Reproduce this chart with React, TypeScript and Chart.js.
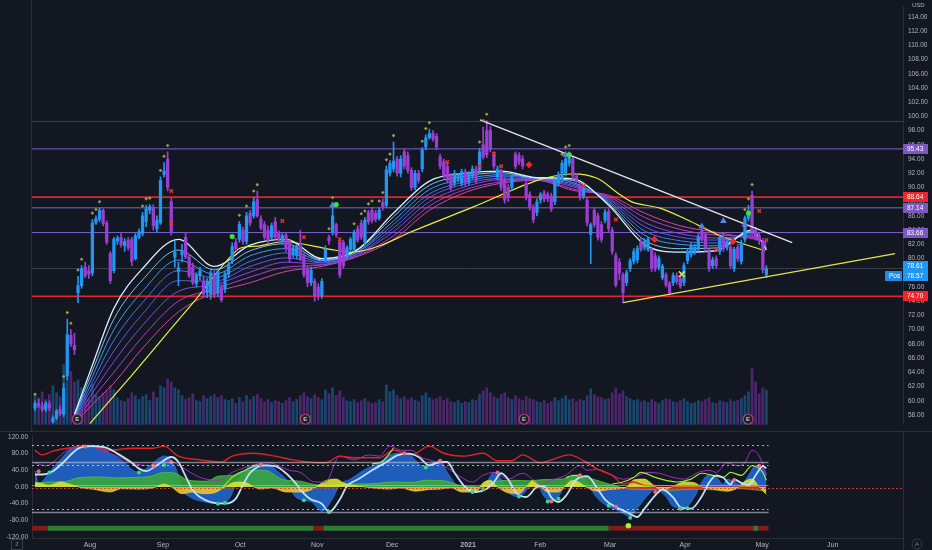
import React, { useEffect, useRef } from 'react';
import { Chart, registerables } from 'chart.js';

Chart.register(...registerables);

// ---------------- price data (daily candles, index 0 = first bar) ----------------
const opens = [
  59.0, 59.6, 59.3, 58.8, 59.6, 57.0, 57.6, 58.8, 58.1, 63.5,
  69.2, 67.8, 75.2, 76.2, 78.8, 78.3, 78.0, 85.0, 85.5, 86.8,
  85.0, 80.7, 78.3, 82.5, 83.0, 81.8, 82.6, 82.7, 80.0, 83.0,
  83.5, 85.2, 86.8, 87.2, 84.2, 85.0, 91.8, 94.0, 88.0, 80.2,
  78.2, 80.5, 83.0, 80.2, 78.8, 76.5, 77.6, 76.8, 75.2, 75.0,
  77.7, 75.1, 75.9, 75.8, 77.8, 79.6, 82.3, 82.7, 84.0, 82.4,
  86.4, 86.0, 88.3, 85.6, 84.8, 84.0, 83.0, 85.2, 83.5, 82.4,
  83.3, 82.3, 80.5, 80.4, 81.9, 80.4, 78.6, 76.6, 76.8, 76.0,
  74.8, 80.0, 83.0, 83.7, 84.8, 82.3, 82.3, 80.5, 81.3, 81.3,
  84.2, 85.0, 82.3, 86.5, 86.8, 86.4, 85.7, 87.9, 87.5, 92.0,
  92.6, 94.0, 92.0, 95.0, 94.5, 92.4, 90.0, 92.0, 92.6, 95.7,
  97.0, 97.6, 97.2, 94.3, 93.6, 93.0, 91.6, 90.6, 91.2, 90.6,
  92.2, 90.8, 91.6, 92.6, 92.5, 96.0, 98.0, 98.0, 94.6, 91.5,
  92.3, 91.0, 90.0, 90.0, 94.7, 94.5, 94.0, 90.6, 89.0, 87.2,
  86.5, 88.2, 89.2, 89.0, 88.8, 88.0, 90.6, 91.2, 92.0, 93.4,
  94.0, 91.6, 90.3, 88.8, 88.2, 83.4, 86.8, 86.0, 84.8, 85.4,
  86.6, 84.0, 80.4, 79.5, 77.7, 76.6, 78.6, 79.6, 79.8, 82.4,
  81.6, 81.3, 81.3, 80.4, 78.8, 77.3, 77.7, 76.5, 76.6, 77.6,
  77.2, 76.6, 79.7, 80.6, 81.0, 81.3, 84.0, 83.3, 81.0, 79.0,
  80.0, 81.0, 83.0, 81.6, 81.6, 78.6, 81.6, 79.6, 82.7, 85.7,
  88.9, 84.0, 83.2, 82.4, 77.7,
];
const highs = [
  60.0, 60.2, 59.8, 59.9, 60.0, 57.9, 58.8, 59.3, 62.5, 71.5,
  70.0, 69.5, 77.5, 79.0, 79.5, 79.0, 85.5, 86.0, 87.1, 87.0,
  85.3, 81.0, 83.0, 83.2, 83.5, 82.8, 83.0, 83.0, 83.5, 84.2,
  86.5, 87.5, 87.6, 87.6, 86.0, 91.5, 93.5, 95.0, 88.5, 82.5,
  79.5, 82.0, 83.6, 80.6, 79.4, 78.0, 78.8, 77.5, 77.2, 78.3,
  78.2, 78.6, 76.4, 78.2, 79.5, 82.2, 82.8, 85.2, 84.4, 86.5,
  86.8, 88.6, 89.5, 86.0, 85.2, 84.6, 85.0, 85.8, 83.9, 83.5,
  83.6, 82.6, 81.8, 82.0, 84.0, 80.8, 79.0, 78.8, 77.2, 76.5,
  77.2, 81.8, 83.3, 87.7, 85.0, 82.7, 82.6, 81.8, 83.0, 84.0,
  84.6, 85.4, 85.8, 86.8, 87.2, 86.8, 87.2, 88.4, 93.0, 93.8,
  96.4, 94.4, 94.5, 95.4, 95.0, 92.8, 92.4, 92.4, 95.6, 97.4,
  98.2, 98.0, 97.6, 94.7, 94.0, 93.4, 92.0, 92.4, 92.0, 92.6,
  92.6, 92.2, 93.0, 93.0, 95.5, 98.5, 99.4, 98.6, 95.0, 93.0,
  92.6, 91.4, 90.4, 91.8, 95.0, 94.9, 94.5, 91.0, 89.4, 87.6,
  88.4, 89.3, 89.6, 89.4, 89.2, 91.3, 92.2, 93.8, 94.8, 95.0,
  94.4, 92.0, 90.7, 90.2, 88.6, 85.0, 87.2, 86.4, 85.2, 86.9,
  87.0, 84.4, 80.8, 80.0, 78.0, 78.4, 80.0, 81.4, 81.8, 82.8,
  82.8, 83.0, 81.6, 80.8, 80.4, 79.2, 78.0, 76.8, 78.0, 78.0,
  77.6, 79.4, 81.4, 82.2, 82.0, 83.4, 84.4, 83.7, 81.3, 80.2,
  80.4, 83.4, 83.4, 82.8, 82.0, 81.6, 82.0, 82.6, 86.0, 87.5,
  89.5, 84.4, 83.6, 82.8, 79.0,
];
const lows = [
  58.6, 59.0, 58.5, 58.5, 58.6, 56.9, 57.3, 57.9, 57.8, 63.0,
  67.6, 66.5, 73.8, 75.8, 77.3, 77.2, 77.6, 84.8, 85.2, 84.6,
  82.0, 76.5, 78.0, 82.0, 81.6, 81.0, 81.2, 79.0, 79.8, 82.8,
  83.2, 84.5, 86.3, 84.0, 83.8, 84.8, 91.5, 89.5, 83.3, 78.8,
  76.2, 79.5, 80.0, 77.3, 76.3, 76.0, 77.0, 74.6, 74.5, 74.3,
  74.5, 74.6, 73.9, 75.2, 77.3, 79.3, 81.1, 82.3, 82.0, 82.0,
  84.6, 85.7, 85.8, 84.0, 82.7, 82.2, 82.6, 82.7, 82.3, 82.0,
  81.0, 79.5, 80.2, 80.0, 79.7, 77.4, 76.0, 76.2, 74.0, 74.2,
  74.4, 79.6, 82.0, 83.3, 83.0, 77.3, 78.6, 80.0, 81.0, 81.0,
  82.3, 82.7, 82.0, 84.8, 85.0, 85.2, 85.4, 86.8, 87.2, 91.6,
  92.2, 91.6, 91.5, 92.6, 92.0, 89.6, 89.7, 90.6, 92.2, 95.3,
  96.8, 96.5, 95.3, 92.6, 91.3, 90.6, 89.6, 90.2, 90.8, 90.2,
  90.2, 90.4, 91.2, 90.6, 92.0, 94.0, 94.2, 95.0, 92.6, 91.0,
  89.6, 87.8, 88.0, 89.6, 92.6, 93.2, 92.6, 88.2, 86.8, 85.0,
  86.0, 87.8, 88.0, 88.0, 86.6, 87.6, 90.2, 90.8, 91.6, 93.0,
  91.2, 90.5, 88.2, 88.4, 84.6, 79.3, 84.4, 82.6, 82.3, 85.0,
  83.8, 80.6, 76.0, 77.0, 73.8, 76.2, 78.2, 79.2, 79.4, 81.0,
  81.2, 81.0, 78.2, 78.2, 78.4, 77.0, 76.0, 74.9, 76.2, 76.4,
  75.8, 76.2, 79.3, 80.2, 80.6, 81.0, 82.4, 81.0, 78.2, 78.6,
  78.6, 80.6, 81.0, 81.2, 78.6, 78.2, 79.6, 79.2, 82.3, 85.3,
  83.4, 82.6, 82.0, 78.0, 77.3,
];
const closes = [
  59.6, 59.3, 58.8, 59.6, 59.0, 57.6, 58.5, 58.2, 61.8, 69.3,
  68.0, 67.2, 76.2, 78.6, 77.6, 77.8, 85.0, 85.6, 86.8, 84.9,
  82.3, 76.9, 82.7, 82.9, 82.0, 82.4, 81.5, 79.6, 83.2, 83.8,
  86.0, 87.0, 87.3, 84.6, 85.4, 91.0, 92.3, 90.0, 83.7, 80.9,
  78.7, 81.0, 80.2, 77.6, 76.6, 77.6, 78.3, 75.0, 76.8, 78.0,
  74.9, 78.2, 74.2, 77.9, 79.2, 81.7, 81.4, 84.8, 82.4, 86.0,
  85.0, 88.0, 86.0, 84.3, 83.0, 82.6, 84.6, 83.0, 82.7, 83.2,
  81.4, 80.0, 81.5, 81.8, 80.0, 77.7, 76.6, 78.4, 74.8, 74.8,
  76.8, 81.3, 82.5, 86.0, 83.4, 77.7, 79.0, 81.5, 82.7, 83.7,
  82.6, 83.0, 85.4, 85.2, 85.4, 85.5, 86.8, 87.2, 92.5, 93.4,
  93.7, 92.0, 94.0, 93.0, 92.4, 90.0, 92.0, 91.0, 95.3, 97.0,
  97.6, 96.8, 95.7, 93.0, 91.7, 91.0, 90.0, 92.0, 91.7, 92.2,
  90.6, 91.8, 92.6, 91.0, 95.0, 94.3, 94.6, 95.4, 93.0, 92.6,
  90.0, 88.2, 88.6, 91.4, 93.0, 93.6, 93.0, 88.6, 87.2, 85.5,
  88.0, 89.0, 88.4, 88.4, 87.0, 91.0, 91.8, 93.4, 94.0, 94.4,
  91.6, 90.9, 88.6, 89.8, 85.0, 84.8, 84.8, 83.0, 82.7, 86.5,
  84.2, 81.0, 76.3, 78.0, 75.2, 78.0, 79.7, 81.0, 81.4, 81.3,
  82.4, 82.7, 78.6, 78.6, 80.0, 78.9, 76.3, 75.2, 77.6, 76.8,
  76.1, 79.0, 81.0, 81.8, 81.6, 83.0, 82.8, 81.5, 78.6, 79.8,
  79.0, 83.0, 81.4, 82.4, 79.0, 81.3, 80.0, 82.2, 85.7, 86.5,
  83.8, 83.0, 82.5, 78.4, 78.61,
];
const volumes = [
  30, 28, 34, 26, 31, 40, 33, 29, 62, 48,
  55, 44, 46, 38, 30, 27, 42, 31, 29, 33,
  35, 40, 36, 28, 25, 24, 27, 33, 30, 26,
  29, 31, 25, 34, 28, 40, 38, 47, 44, 38,
  36, 30, 26, 28, 32, 25, 24, 30, 27, 29,
  31, 28, 30, 26, 25, 27, 22, 28, 24, 30,
  26, 29, 31, 27, 24, 26, 23, 25, 24, 22,
  25, 28, 24, 26, 30, 33, 29, 27, 31, 28,
  26, 36, 32, 38, 30, 35, 28, 25, 24, 26,
  23, 25, 27, 24, 22, 23, 26, 24, 41, 34,
  36, 30, 27, 29, 26, 28, 25, 24, 30, 33,
  28, 26, 27, 29, 25, 27, 24, 23, 25, 22,
  24, 23, 26, 25, 31, 35, 38, 33, 29, 27,
  31, 33, 28, 26, 30, 27, 25, 29, 27, 26,
  24, 23, 25, 22, 24, 28, 25, 27, 30, 26,
  27, 24, 26, 25, 30, 37, 31, 29, 28, 26,
  27, 33, 38, 32, 35, 29, 27, 25, 26, 24,
  25, 23, 26, 24, 22, 25, 27, 26, 24, 23,
  25, 27, 24, 22, 23, 25, 24, 26, 28, 23,
  22, 25, 24, 23, 26, 24, 25, 27, 30, 34,
  58, 44, 32, 38, 36,
];

// ---------------- axes ----------------
const xMin = -0.84;
const xMax = 242.1;
const priceMin = 56.62;
const priceMax = 115.5;
const priceTicks = [58, 60, 62, 64, 66, 68, 70, 72, 74, 76, 78, 80, 82, 84, 86, 88, 90, 92, 94, 96, 98, 100, 102, 104, 106, 108, 110, 112, 114];
const oscMin = -122.3;
const oscMax = 124.7;
const oscTicks = [120, 80, 40, 0, -40, -80, -120];
const monthTickIdx = [15.3, 35.7, 57.2, 78.7, 99.6, 120.8, 140.9, 160.4, 181.3, 202.8, 222.5];
const monthTickLabels = ['Aug', 'Sep', 'Oct', 'Nov', 'Dec', '2021', 'Feb', 'Mar', 'Apr', 'May', 'Jun'];

// ---------------- moving-average ribbon (fast -> slow) ----------------
const ribbonIdx = [11, 16, 22, 30, 40, 50, 60, 70, 80, 90, 100, 110, 120, 130, 140, 150, 160, 170, 180, 190, 200, 204];
const ribbon0 = [58.1, 65.0, 73.0, 78.6, 82.7, 78.9, 81.9, 82.7, 80.0, 81.3, 86.4, 90.9, 92.0, 92.3, 91.4, 91.2, 87.5, 82.0, 80.9, 81.1, 84.0, 81.2];
const ribbon1 = [57.9, 64.2, 71.5, 77.0, 81.2, 78.4, 81.1, 82.1, 79.8, 81.2, 85.9, 90.3, 91.6, 92.1, 91.3, 91.0, 87.7, 82.6, 81.4, 81.5, 83.8, 81.4];
const ribbon2 = [57.7, 63.4, 70.0, 75.4, 79.8, 77.8, 80.4, 81.4, 79.7, 81.0, 85.3, 89.7, 91.2, 91.8, 91.3, 90.7, 87.9, 83.3, 82.0, 81.8, 83.7, 81.5];
const ribbon3 = [57.5, 62.6, 68.5, 73.8, 78.3, 77.3, 79.6, 80.8, 79.5, 80.9, 84.8, 89.1, 90.8, 91.6, 91.2, 90.5, 88.1, 83.9, 82.5, 82.2, 83.5, 81.7];
const ribbon4 = [57.4, 61.9, 67.0, 72.2, 76.9, 76.8, 78.9, 80.1, 79.4, 80.7, 84.3, 88.6, 90.5, 91.3, 91.2, 90.3, 88.3, 84.5, 83.0, 82.6, 83.3, 81.9];
const ribbon5 = [57.2, 61.1, 65.5, 70.6, 75.4, 76.3, 78.1, 79.5, 79.2, 80.6, 83.8, 88.0, 90.1, 91.1, 91.1, 90.1, 88.5, 85.1, 83.5, 82.9, 83.1, 82.1];
const ribbon6 = [57.0, 60.3, 64.0, 69.0, 74.0, 75.7, 77.4, 78.8, 79.1, 80.4, 83.2, 87.4, 89.7, 90.8, 91.1, 89.8, 88.7, 85.8, 84.1, 83.3, 83.0, 82.2];
const ribbon7 = [56.8, 59.5, 62.5, 67.4, 72.5, 75.2, 76.6, 78.2, 78.9, 80.3, 82.7, 86.8, 89.3, 90.6, 91.0, 89.6, 88.9, 86.4, 84.6, 83.7, 82.8, 82.4];
const ribbons = [ribbon0, ribbon1, ribbon2, ribbon3, ribbon4, ribbon5, ribbon6, ribbon7];
const ribbonColors = ['#d9edff', '#7cc4f7', '#3f9bf2', '#4b74ef', '#6656ea', '#8a48e2', '#b03fd0', '#d8449f'];

const yellowMA = [
  [15.3, 56.8], [26.5, 63.3], [37.7, 70.0], [44.6, 74.1], [56.6, 81.3], [62.8, 81.8], [69.7, 82.4],
  [82.3, 81.3], [88.7, 80.9], [96.2, 81.8], [104.6, 83.7], [121.9, 87.2], [139.5, 90.9], [149.2, 91.9],
  [156.8, 91.3], [162.3, 89.3], [166.8, 87.9], [174.3, 87.1], [182.2, 85.4], [191.6, 83.1], [203.6, 81.1],
];

// ---------------- drawings ----------------
const trendDown = [[124.1, 99.5], [211.2, 82.25]];
const trendUp = [[164.0, 73.8], [239.9, 80.7]];
const levelValues = [95.43, 88.64, 87.14, 83.66, 74.70];
const levelTypes = ['pivot', 'resistance', 'pivot', 'pivot', 'resistance'];
const guideValues = [99.3, 78.61];
const lastPrice = 78.61;
const positionPrice = 78.57;

// ---------------- signals ----------------
const oliveIdx = [0, 8, 9, 10, 12, 13, 16, 17, 18, 30, 31, 32, 35, 36, 37, 57, 59, 61, 62, 82, 83, 89, 91, 92, 93, 94, 96, 97, 98, 99, 100, 108, 109, 110, 124, 125, 126, 147, 148, 149, 198, 199, 200];
const redSignals = [[38, 85.0], [38, 89.5], [69, 85.3], [75, 83.0], [85, 82.7], [115, 93.6], [124, 93.0], [128, 94.7], [130, 93.0], [153, 90.2], [162, 85.5], [190, 81.3], [202, 86.7], [204, 82.6]];
const greenSignals = [[55, 83.1], [84, 87.6], [149, 94.6], [199, 86.4]];
const blueTriangles = [[83, 87.5], [148, 94.6], [186, 84.5], [192, 85.3], [198, 84.8]];
const redDiamonds = [[137.8, 93.2], [172.8, 82.7], [194.7, 82.4]];
const yellowCrosses = [[180.4, 77.8]];
const earningsIdx = [11.8, 75.4, 136.4, 198.9];
const earningsPrice = 57.4;

// ---------------- oscillator ----------------
const wtBlue = [[0, 39], [1, 8], [4, 35], [7, 65], [11, 97], [15, 100], [18, 97], [21, 81], [25, 58], [27, 42], [29, 35], [32, 51], [36, 74], [38, 65], [40, 28], [41, -5], [43, -23], [47, -35], [51, -40], [54, -30], [56, 5], [58, 35], [62, 53], [65, 53], [68, 35], [71, 7], [72, -16], [74, -30], [77, -35], [80, -58], [83, -28], [85, 5], [88, 19], [92, 42], [96, 58], [99, 77], [102, 81], [105, 74], [108, 51], [111, 58], [113, 63], [115, 35], [118, 0], [121, -12], [124, -5], [126, 12], [128, 35], [130, 19], [132, -12], [135, -23], [138, 0], [140, 5], [142, -23], [144, -35], [146, -23], [149, 19], [152, 28], [155, -5], [157, -28], [160, -47], [163, -58], [166, -70], [168, -51], [171, -19], [173, -5], [176, -23], [178, -47], [181, -51], [184, -23], [186, 12], [188, 30], [190, 23], [192, 7], [193, 19], [195, 12], [197, 5], [199, 28], [201, 51], [203, 47], [204, 28]];
const wtLine = [[0, 30], [2, 30], [5, 38], [8, 60], [12, 92], [16, 98], [20, 94], [23, 80], [27, 58], [29, 44], [31, 38], [34, 52], [38, 72], [40, 60], [42, 26], [44, -8], [46, -24], [49, -36], [53, -40], [56, -28], [58, 5], [60, 34], [64, 52], [67, 50], [70, 33], [73, 6], [75, -16], [77, -30], [80, -40], [82, -60], [85, -30], [87, 2], [90, 18], [94, 40], [98, 60], [101, 76], [104, 80], [107, 72], [110, 52], [113, 60], [115, 60], [117, 34], [120, 0], [123, -12], [126, -4], [128, 12], [130, 33], [132, 18], [134, -12], [137, -24], [140, 0], [142, 2], [144, -25], [146, -36], [148, -22], [151, 18], [154, 26], [157, -6], [159, -30], [162, -48], [165, -60], [168, -72], [170, -52], [173, -20], [175, -6], [178, -25], [180, -48], [183, -52], [186, -22], [188, 10], [190, 28], [192, 22], [194, 6], [195, 18], [197, 10], [199, 4], [201, 28], [203, 50], [204, 45]];
const rsiRed = [[0, 88], [2, 77], [5, 86], [9, 93], [15, 98], [21, 88], [27, 93], [33, 93], [36, 98], [40, 74], [46, 65], [52, 60], [55, 74], [61, 81], [67, 74], [72, 65], [79, 58], [81, 58], [85, 74], [89, 70], [96, 70], [100, 88], [105, 77], [110, 98], [114, 81], [120, 74], [125, 81], [129, 63], [133, 63], [136, 77], [141, 58], [144, 65], [149, 77], [153, 63], [157, 42], [161, 28], [164, 7], [167, 12], [170, 4], [180, 3], [204, 3]];
const stochPurple = [[0, 58], [3, 51], [9, 88], [15, 98], [18, 88], [21, 81], [27, 58], [32, 51], [37, 65], [41, 47], [46, 23], [51, 16], [55, 35], [61, 53], [65, 58], [71, 40], [74, 35], [78, 12], [81, 12], [85, 74], [89, 65], [93, 77], [96, 74], [99, 98], [102, 88], [105, 88], [108, 70], [110, 65], [114, 51], [118, 28], [122, 12], [125, 28], [128, 35], [132, 19], [136, 33], [141, 7], [144, 16], [148, 28], [152, 51], [154, 40], [157, 42], [161, 28], [164, 19], [167, 23], [171, 35], [174, 33], [178, 23], [181, 19], [185, 35], [188, 40], [190, 35], [193, 58], [196, 51], [198, 58], [200, 88], [202, 74], [204, 30]];
const limeLine = [[52, -5], [55, 23], [59, 42], [62, 53], [63, null], [94, 55], [97, 62], [100, 93], [101, null], [148, 22], [150, 28], [152, 28], [153, null], [161, 7], [164, 12], [167, 23], [169, 35], [173, 23], [176, 16], [179, 12], [183, 19], [186, 33], [189, 28], [192, 23], [194, 35], [197, 28], [200, 51], [203, 35], [204, 16]];
const mfGreen = [[0, 10], [4, 12], [9, 14], [12, 22], [18, 24], [22, 22], [28, 23], [32, 25], [36, 35], [39, 33], [43, 16], [48, 14], [51, 26], [55, 28], [58, 38], [62, 40], [65, 38], [69, 18], [74, 14], [78, 6], [83, 4], [88, 7], [94, 8], [100, 12], [105, 11], [109, 16], [114, 15], [118, 5], [122, 1], [125, 0], [129, 14], [134, 16], [138, 15], [142, 18], [147, 19], [151, 27], [153, 25], [156, 18], [161, 5], [166, -5], [172, -6], [178, -8], [184, -5], [190, -7], [196, -4], [200, -6], [204, -10]];
const yellowWave = [[0, 10], [2, 8], [4, 4], [7, 12], [10, 6], [13, -2], [16, -5], [21, -12], [24, -4], [29, -5], [33, -2], [36, 7], [38, 0], [41, -16], [44, -12], [47, -16], [50, -14], [53, 0], [56, 12], [59, 10], [61, 0], [63, -5], [66, -2], [70, -12], [75, -12], [78, -2], [81, 15], [84, 19], [86, 10], [88, 5], [92, 0], [99, -5], [102, -2], [106, -10], [110, -6], [113, -5], [116, -2], [119, -12], [123, -10], [125, 10], [127, 16], [129, 0], [132, -14], [135, -16], [137, 0], [139, 16], [141, 2], [143, -12], [146, -12], [148, 4], [150, 16], [152, 10], [154, -2], [157, -10], [160, -6], [163, -4], [165, 0], [167, 17], [170, 19], [172, 8], [174, -4], [176, -5], [178, 2], [181, 12], [184, 10], [186, 0], [189, -5], [193, -10], [196, -2], [198, 14], [200, 19], [202, 0], [204, -18]];
const wtBuyDots = [[4, 35], [29, 35], [36, 53], [51, -40], [53, -38], [75, -32], [82, -60], [109, 47], [122, -12], [125, -5], [135, -23], [143, -35], [146, -28], [160, -45], [166, -74], [180, -51], [182, -51]];
const wtSellDots = [[1, 38], [14, 97], [33, 51], [38, 60], [63, 53], [103, 81], [113, 63], [129, 35], [144, -35], [152, 28], [162, -47], [173, -12], [180, -52], [195, 17], [202, 51]];
const bandStart = [-0.84, 3.6, 77.6, 80.4, 160.0, 200.3, 201.7];
const bandEnd = [3.6, 77.6, 80.4, 160.0, 200.3, 201.7, 204.6];
const bandBull = [false, true, false, true, false, true, false];
const bandLevel = -99;
const limeDots = [[165.5, -93]];
const oscGuideValues = [100, 60, 53, -53, -60];
const oscGuideTypes = ['dotted', 'solid', 'dotted', 'dotted', 'solid'];
const dataEndIdx = 204.6;

// ---------------- styling ----------------
const BG = '#131722';
const LINE = '#2a2e39';
const TXT = '#b2b5be';
const FONT = '"Liberation Sans", Arial, sans-serif';
const UP = '#2196f3';
const DOWN = '#9b3fd4';
const UP_VOL = 'rgba(33,150,243,0.38)';
const DOWN_VOL = 'rgba(155,63,212,0.42)';

const pairs = (arr: any[]) => arr.map((p) => ({ x: p[0], y: p[1] }));

const mainDecor = {
  id: 'mainDecor',
  beforeDatasetsDraw(chart: any) {
    const { ctx, chartArea: a } = chart;
    const ys = chart.scales.y;
    ctx.save();
    guideValues.forEach((v) => {
      const py = Math.round(ys.getPixelForValue(v)) + 0.5;
      ctx.strokeStyle = 'rgba(120,123,134,0.38)';
      ctx.lineWidth = 1;
      ctx.beginPath();
      ctx.moveTo(a.left, py);
      ctx.lineTo(a.right, py);
      ctx.stroke();
    });
    levelValues.forEach((v, k) => {
      const res = levelTypes[k] === 'resistance';
      const py = ys.getPixelForValue(v);
      ctx.strokeStyle = res ? '#e3242b' : '#7e62d6';
      ctx.lineWidth = res ? 1.6 : 1;
      ctx.beginPath();
      ctx.moveTo(a.left, py);
      ctx.lineTo(a.right, py);
      ctx.stroke();
    });
    ctx.restore();
  },
  afterDraw(chart: any) {
    const { ctx, chartArea: a } = chart;
    const ys = chart.scales.y;
    const xs = chart.scales.x;
    ctx.save();
    ctx.strokeStyle = LINE;
    ctx.lineWidth = 1;
    ctx.beginPath();
    ctx.moveTo(a.left - 0.5, 0);
    ctx.lineTo(a.left - 0.5, chart.height);
    ctx.stroke();
    ctx.font = `bold 6px ${FONT}`;
    ctx.fillStyle = '#c9c9cf';
    ctx.textAlign = 'center';
    ctx.textBaseline = 'middle';
    earningsIdx.forEach((i) => {
      ctx.fillText('E', xs.getPixelForValue(i), ys.getPixelForValue(earningsPrice) + 0.5);
    });
    const tag = (yc: number, text: string, bg: string, x0: number, w: number) => {
      ctx.fillStyle = bg;
      ctx.fillRect(x0, Math.round(yc) - 5, w, 10);
      ctx.fillStyle = '#ffffff';
      ctx.font = `6.5px ${FONT}`;
      ctx.textAlign = 'left';
      ctx.textBaseline = 'middle';
      ctx.fillText(text, x0 + 4, Math.round(yc) + 0.5);
    };
    levelValues.forEach((v, k) => {
      const res = levelTypes[k] === 'resistance';
      tag(ys.getPixelForValue(v), v.toFixed(2), res ? '#f2232b' : '#7e57c2', a.right, 25);
    });
    const lp = ys.getPixelForValue(lastPrice);
    tag(lp - 2, lastPrice.toFixed(2), UP, a.right, 25);
    tag(ys.getPixelForValue(positionPrice) + 7, positionPrice.toFixed(2), UP, a.right, 25);
    tag(ys.getPixelForValue(positionPrice) + 7, 'Pos', '#1f8ae0', a.right - 18, 17);
    ctx.fillStyle = TXT;
    ctx.font = `6px ${FONT}`;
    ctx.textAlign = 'left';
    ctx.textBaseline = 'middle';
    ctx.fillText('USD', a.right + 9, 5);
    ctx.restore();
  },
};

const oscDecor = {
  id: 'oscDecor',
  afterDatasetsDraw(chart: any) {
    const { ctx, chartArea: a } = chart;
    const ys = chart.scales.y;
    const xs = chart.scales.x;
    const xEnd = xs.getPixelForValue(dataEndIdx);
    ctx.save();
    oscGuideValues.forEach((v, k) => {
      const py = Math.round(ys.getPixelForValue(v)) + 0.5;
      ctx.beginPath();
      if (oscGuideTypes[k] === 'dotted') {
        ctx.setLineDash([2, 3]);
        ctx.strokeStyle = 'rgba(230,230,235,0.75)';
        ctx.lineWidth = 1;
      } else {
        ctx.setLineDash([]);
        ctx.strokeStyle = 'rgba(200,202,210,0.6)';
        ctx.lineWidth = 1.6;
      }
      ctx.moveTo(a.left, py);
      ctx.lineTo(xEnd, py);
      ctx.stroke();
    });
    const z = Math.round(ys.getPixelForValue(0)) + 0.5;
    ctx.setLineDash([]);
    ctx.strokeStyle = 'rgba(200,202,210,0.55)';
    ctx.lineWidth = 1;
    ctx.beginPath();
    ctx.moveTo(a.left, z - 2);
    ctx.lineTo(xEnd, z - 2);
    ctx.stroke();
    ctx.setLineDash([2, 2]);
    ctx.strokeStyle = 'rgba(235,60,50,0.85)';
    ctx.beginPath();
    ctx.moveTo(a.left, z + 1);
    ctx.lineTo(a.right, z + 1);
    ctx.stroke();
    ctx.restore();
  },
  afterDraw(chart: any) {
    const { ctx, chartArea: a } = chart;
    ctx.save();
    ctx.strokeStyle = LINE;
    ctx.lineWidth = 1;
    ctx.beginPath();
    ctx.moveTo(0, 0.5);
    ctx.lineTo(chart.width, 0.5);
    ctx.moveTo(a.right + 0.5, 0);
    ctx.lineTo(a.right + 0.5, chart.height);
    ctx.stroke();
    ctx.strokeStyle = '#3a3e4a';
    ctx.beginPath();
    ctx.arc(a.right + 14, a.bottom + 6, 5, 0, Math.PI * 2);
    ctx.stroke();
    ctx.strokeRect(11.5, a.bottom + 1.5, 11, 10);
    ctx.fillStyle = '#787b86';
    ctx.font = `6px ${FONT}`;
    ctx.textAlign = 'center';
    ctx.textBaseline = 'middle';
    ctx.fillText('A', a.right + 14, a.bottom + 6.5);
    ctx.fillText('Z', 17, a.bottom + 6.5);
    ctx.restore();
  },
};

function buildMain(canvas: HTMLCanvasElement) {
  const idx = opens.map((_, i) => i);
  const isUp = idx.map((i) => closes[i] >= opens[i]);
  const bodyColors = isUp.map((u) => (u ? UP : DOWN));
  const volColors = isUp.map((u) => (u ? UP_VOL : DOWN_VOL));
  const datasets: any[] = [];

  datasets.push({ type: 'scatter', data: oliveIdx.map((i) => ({ x: i, y: highs[i] + 0.9 })), pointStyle: 'rectRot', pointRadius: 1.8, backgroundColor: '#9d9a48', borderWidth: 0, order: 0 });
  datasets.push({ type: 'scatter', data: pairs(redSignals), pointStyle: 'crossRot', pointRadius: 2.5, borderColor: '#e5332f', borderWidth: 1.4, order: 0 });
  datasets.push({ type: 'scatter', data: pairs(greenSignals), pointStyle: 'circle', pointRadius: 2.6, backgroundColor: '#3be03f', borderWidth: 0, order: 0 });
  datasets.push({ type: 'scatter', data: pairs(blueTriangles), pointStyle: 'triangle', pointRadius: 4, backgroundColor: '#5c7ce8', borderWidth: 0, order: 0 });
  datasets.push({ type: 'scatter', data: pairs(redDiamonds), pointStyle: 'rectRot', pointRadius: 3.6, backgroundColor: '#f02828', borderWidth: 0, order: 0 });
  datasets.push({ type: 'scatter', data: pairs(yellowCrosses), pointStyle: 'crossRot', pointRadius: 4, borderColor: '#f0e24a', borderWidth: 1.6, order: 0 });
  datasets.push({ type: 'scatter', data: earningsIdx.map((i) => ({ x: i, y: earningsPrice })), pointStyle: 'circle', pointRadius: 5, backgroundColor: '#1d1f2a', borderColor: '#b0466a', borderWidth: 1.2, order: 0 });

  datasets.push({ type: 'line', data: pairs(trendDown), borderColor: '#e6e6ea', borderWidth: 1.3, pointRadius: 0, order: 1 });
  datasets.push({ type: 'line', data: pairs(trendUp), borderColor: '#e8e24a', borderWidth: 1.1, pointRadius: 0, order: 1 });

  datasets.push({ type: 'bar', data: idx.map((i) => ({ x: i, y: [opens[i], closes[i]] })), backgroundColor: bodyColors, barThickness: 2.6, minBarLength: 1, grouped: false, borderWidth: 0, order: 2 });
  datasets.push({ type: 'bar', data: idx.map((i) => ({ x: i, y: [lows[i], highs[i]] })), backgroundColor: bodyColors, barThickness: 1, grouped: false, borderWidth: 0, order: 3 });

  datasets.push({ type: 'line', data: pairs(yellowMA), borderColor: '#ecec3c', borderWidth: 1.2, pointRadius: 0, tension: 0.3, order: 4 });
  ribbons.forEach((r, k) => {
    datasets.push({ type: 'line', data: ribbonIdx.map((x, j) => ({ x, y: r[j] })), borderColor: ribbonColors[k], borderWidth: k === 0 ? 1.3 : 1, pointRadius: 0, cubicInterpolationMode: 'monotone', order: 5 + k });
  });

  datasets.push({ type: 'bar', yAxisID: 'yVol', data: idx.map((i) => ({ x: i, y: volumes[i] })), backgroundColor: volColors, barThickness: 2, grouped: false, borderWidth: 0, order: 30 });

  return new Chart(canvas, {
    type: 'bar',
    data: { datasets },
    plugins: [mainDecor],
    options: {
      animation: false,
      responsive: false,
      devicePixelRatio: 1,
      events: [],
      layout: { padding: { left: 32, right: 0, top: 0, bottom: 0 } },
      plugins: { legend: { display: false }, tooltip: { enabled: false } },
      scales: {
        x: { type: 'linear', min: xMin, max: xMax, offset: false, display: false, grid: { display: false, offset: false } },
        y: {
          type: 'linear',
          position: 'right',
          min: priceMin,
          max: priceMax,
          grid: { display: false, drawTicks: false },
          border: { display: true, color: LINE },
          afterBuildTicks: (s: any) => { s.ticks = priceTicks.map((v) => ({ value: v })); },
          afterFit: (s: any) => { s.width = 29; s.paddingTop = 0; s.paddingBottom = 0; },
          ticks: { autoSkip: false, padding: 5, color: TXT, font: { size: 6.5, family: FONT }, callback: (v: any) => Number(v).toFixed(2) },
        },
        yVol: { type: 'linear', display: false, min: 0, max: 431, grid: { display: false } },
      },
    } as any,
  });
}

function buildOsc(canvas: HTMLCanvasElement) {
  const datasets: any[] = [];
  datasets.push({ type: 'scatter', data: pairs(limeDots), pointRadius: 2.8, backgroundColor: '#a8f03a', borderWidth: 0, order: 0 });
  datasets.push({ type: 'scatter', data: pairs(wtBuyDots), pointRadius: 2, backgroundColor: '#2fd88a', borderWidth: 0, order: 0 });
  datasets.push({ type: 'scatter', data: pairs(wtSellDots), pointRadius: 2, backgroundColor: '#f06876', borderWidth: 0, order: 0 });
  datasets.push({ type: 'line', data: pairs(wtLine), borderColor: '#bfe2fb', borderWidth: 1.8, pointRadius: 0, cubicInterpolationMode: 'monotone', order: 1 });
  datasets.push({ type: 'line', data: pairs(limeLine), borderColor: '#96ef3a', borderWidth: 1.2, pointRadius: 0, spanGaps: false, cubicInterpolationMode: 'monotone', order: 2 });
  datasets.push({ type: 'line', data: pairs(rsiRed), borderColor: '#e2231f', borderWidth: 1.4, pointRadius: 0, cubicInterpolationMode: 'monotone', order: 3 });
  datasets.push({ type: 'line', data: pairs(stochPurple), borderColor: '#a02fc0', borderWidth: 1, pointRadius: 0, cubicInterpolationMode: 'monotone', order: 4 });
  datasets.push({ type: 'line', data: pairs(yellowWave), borderColor: 'rgba(225,220,60,0.9)', borderWidth: 0.8, pointRadius: 0, cubicInterpolationMode: 'monotone', fill: { target: 'origin', above: 'rgba(214,226,52,0.9)', below: 'rgba(236,196,44,0.9)' }, order: 5 });
  datasets.push({ type: 'line', data: pairs(mfGreen), borderColor: 'rgba(90,200,70,0.9)', borderWidth: 0.8, pointRadius: 0, cubicInterpolationMode: 'monotone', fill: { target: 'origin', above: 'rgba(58,168,58,0.88)', below: 'rgba(205,45,45,0.9)' }, order: 6 });
  datasets.push({ type: 'line', data: pairs(wtBlue), borderColor: 'rgba(36,104,206,1)', borderWidth: 1, pointRadius: 0, cubicInterpolationMode: 'monotone', fill: { target: 'origin', above: 'rgba(33,100,200,0.92)', below: 'rgba(33,100,200,0.92)' }, order: 7 });
  bandStart.forEach((s, k) => {
    datasets.push({ type: 'line', data: [{ x: s, y: bandLevel }, { x: bandEnd[k], y: bandLevel }], borderColor: bandBull[k] ? '#2e7d32' : '#7f1b1b', borderWidth: 5, borderCapStyle: 'butt', pointRadius: 0, order: 8 });
  });

  return new Chart(canvas, {
    type: 'line',
    data: { datasets },
    plugins: [oscDecor],
    options: {
      animation: false,
      responsive: false,
      devicePixelRatio: 1,
      events: [],
      layout: { padding: { left: 0, right: 29, top: 0, bottom: 0 } },
      plugins: { legend: { display: false }, tooltip: { enabled: false } },
      scales: {
        x: {
          type: 'linear',
          min: xMin,
          max: xMax,
          offset: false,
          grid: { display: false, drawTicks: false },
          border: { display: true, color: LINE },
          afterBuildTicks: (s: any) => { s.ticks = monthTickIdx.map((v) => ({ value: v })); },
          afterFit: (s: any) => { s.height = 12; s.paddingLeft = 0; s.paddingRight = 0; },
          ticks: {
            autoSkip: false,
            maxRotation: 0,
            padding: 3,
            color: TXT,
            font: (c: any) => ({ size: 7, family: FONT, weight: c.index === 5 ? 'bold' : 'normal' }),
            callback: (_v: any, i: number) => monthTickLabels[i],
          },
        },
        y: {
          type: 'linear',
          position: 'left',
          min: oscMin,
          max: oscMax,
          grid: { display: false, drawTicks: false },
          border: { display: true, color: LINE },
          afterBuildTicks: (s: any) => { s.ticks = oscTicks.map((v) => ({ value: v })); },
          afterFit: (s: any) => { s.width = 32; s.paddingTop = 0; s.paddingBottom = 0; },
          ticks: { autoSkip: false, padding: 4, color: TXT, font: { size: 6.5, family: FONT }, callback: (v: any) => Number(v).toFixed(2) },
        },
      },
    } as any,
  });
}

export default function App() {
  const mainRef = useRef<HTMLCanvasElement>(null);
  const oscRef = useRef<HTMLCanvasElement>(null);
  useEffect(() => {
    document.body.style.margin = '0';
    document.body.style.background = BG;
    const m = buildMain(mainRef.current as HTMLCanvasElement);
    const o = buildOsc(oscRef.current as HTMLCanvasElement);
    return () => {
      m.destroy();
      o.destroy();
    };
  }, []);
  return (
    <div style={{ position: 'relative', width: 932, height: 550, background: BG, overflow: 'hidden' }}>
      <canvas ref={mainRef} width={932} height={431} style={{ position: 'absolute', left: 0, top: 0, width: 932, height: 431 }} />
      <canvas ref={oscRef} width={932} height={119} style={{ position: 'absolute', left: 0, top: 431, width: 932, height: 119 }} />
    </div>
  );
}
